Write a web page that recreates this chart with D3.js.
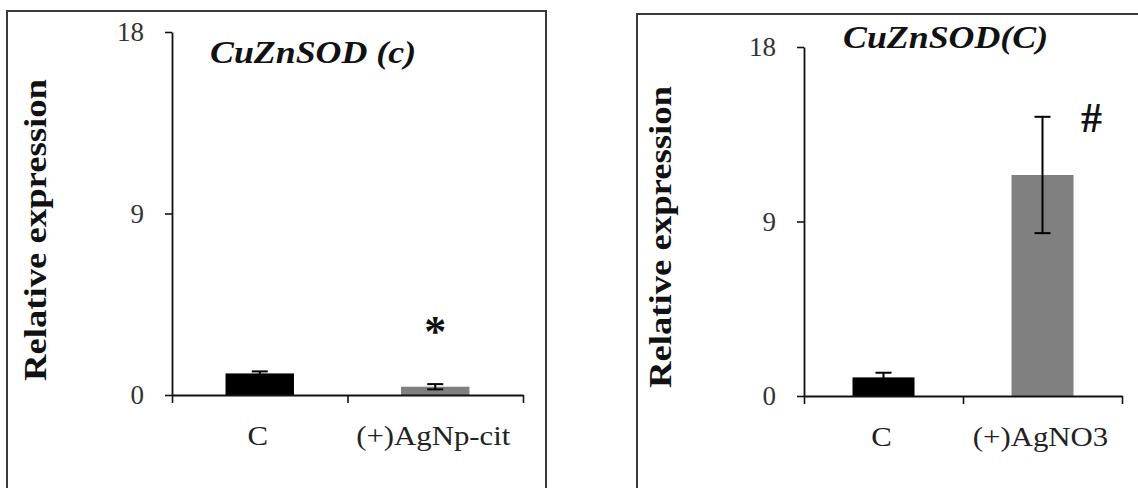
<!DOCTYPE html>
<html>
<head>
<meta charset="utf-8">
<script src="https://cdn.jsdelivr.net/npm/d3@7"></script>
<style>
  html, body { margin: 0; padding: 0; background: #fff; }
  svg { display: block; }
</style>
</head>
<body>
<svg id="chart" width="1138" height="488"></svg>
<script>
// ---- data ----
const titles = ["CuZnSOD (c)", "CuZnSOD(C)"];
const categoriesA = ["C", "(+)AgNp-cit"];
const meansA = [1.07, 0.41];
const errorsA = [0.10, 0.13];
const signifA = ["", "*"];
const categoriesB = ["C", "(+)AgNO3"];
const meansB = [0.96, 11.4];
const errorsB = [0.24, 3.0];
const signifB = ["", "#"];
const yTicks = [0, 9, 18];
const yLabel = "Relative expression";
const barColors = ["#000000", "#808080"];

// ---- layout ----
const panels = [
  {
    title: titles[0], cats: categoriesA, means: meansA, errs: errorsA, marks: signifA,
    frame: { x: 7, y: 11, w: 539, h: 520 },
    x0: 172, x1: 523, yTop: 32, yBottom: 395,
    titleX: 210, titleY: 63,
    labelX: 46, labelY: 230,
    markDx: 0, markDy: -38, markSize: 44
  },
  {
    title: titles[1], cats: categoriesB, means: meansB, errs: errorsB, marks: signifB,
    frame: { x: 637, y: 14, w: 540, h: 520 },
    x0: 804, x1: 1122, yTop: 47, yBottom: 396,
    titleX: 843, titleY: 48,
    labelX: 671, labelY: 237,
    markDx: 49, markDy: 15, markSize: 42
  }
];

const svg = d3.select("#chart");
const FONT = "Liberation Serif";

// text helper with horizontal stretch
function stretchedText(g, str, x, y, opts) {
  const t = g.append("text")
    .attr("transform", `translate(${x},${y}) rotate(${opts.rotate || 0}) scale(${opts.sx || 1},1)`)
    .attr("font-family", FONT)
    .attr("font-size", opts.size)
    .attr("font-weight", opts.weight || "normal")
    .attr("font-style", opts.style || "normal")
    .attr("text-anchor", opts.anchor || "middle")
    .attr("fill", opts.fill || "#111")
    .text(str);
  if (opts.length) t.attr("textLength", opts.length).attr("lengthAdjust", "spacingAndGlyphs");
  return t;
}

panels.forEach(p => {
  const g = svg.append("g");

  // frame
  g.append("rect")
    .attr("x", p.frame.x).attr("y", p.frame.y)
    .attr("width", p.frame.w).attr("height", p.frame.h)
    .attr("fill", "none").attr("stroke", "#3a3a3a").attr("stroke-width", 2);

  const y = d3.scaleLinear().domain([0, 18]).range([p.yBottom, p.yTop]);
  const x = d3.scaleBand().domain(p.cats).range([p.x0, p.x1]).paddingInner(0).paddingOuter(0);
  const xEdges = d3.scaleLinear().domain([0, p.cats.length]).range([p.x0, p.x1]);
  const barW = x.bandwidth() * 0.39;

  // bars
  g.selectAll("rect.bar").data(p.cats).join("rect")
    .attr("class", "bar")
    .attr("x", d => x(d) + x.bandwidth() / 2 - barW / 2)
    .attr("width", barW)
    .attr("y", (d, i) => y(p.means[i]))
    .attr("height", (d, i) => y(0) - y(p.means[i]))
    .attr("fill", (d, i) => barColors[i]);

  // error bars
  const capW = 16;
  const eb = g.selectAll("g.err").data(p.cats).join("g").attr("class", "err");
  eb.append("line")
    .attr("x1", d => x(d) + x.bandwidth() / 2)
    .attr("x2", d => x(d) + x.bandwidth() / 2)
    .attr("y1", (d, i) => y(p.means[i] - p.errs[i]))
    .attr("y2", (d, i) => y(p.means[i] + p.errs[i]))
    .attr("stroke", "#000").attr("stroke-width", 2);
  ["-", "+"].forEach(s => {
    eb.append("line")
      .attr("x1", d => x(d) + x.bandwidth() / 2 - capW / 2)
      .attr("x2", d => x(d) + x.bandwidth() / 2 + capW / 2)
      .attr("y1", (d, i) => y(p.means[i] + (s === "+" ? p.errs[i] : -p.errs[i])))
      .attr("y2", (d, i) => y(p.means[i] + (s === "+" ? p.errs[i] : -p.errs[i])))
      .attr("stroke", "#000").attr("stroke-width", 2);
  });

  // y axis
  const yAxis = d3.axisLeft(y).tickValues(yTicks).tickSize(7).tickSizeOuter(0).tickPadding(21);
  const ya = g.append("g").attr("transform", `translate(${p.x0},0)`).call(yAxis);
  ya.attr("font-family", FONT);
  ya.select(".domain").attr("stroke", "#111").attr("stroke-width", 1.8);
  ya.selectAll(".tick line").attr("stroke", "#111").attr("stroke-width", 1.6);
  ya.selectAll(".tick text")
    .attr("font-family", FONT).attr("font-size", 27).attr("fill", "#333");

  // x axis with tick marks at category boundaries
  const xAxis = d3.axisBottom(xEdges).tickValues(d3.range(p.cats.length + 1))
    .tickFormat("").tickSize(8).tickSizeOuter(0);
  const xa = g.append("g").attr("transform", `translate(0,${p.yBottom})`).call(xAxis);
  xa.select(".domain").attr("stroke", "#111").attr("stroke-width", 1.8);
  xa.selectAll(".tick line").attr("stroke", "#111").attr("stroke-width", 1.6);

  // category labels
  p.cats.forEach(c => {
    stretchedText(g, c, x(c) + x.bandwidth() / 2 - 2, p.yBottom + 50, { size: 28, sx: 1.1, fill: "#222" });
  });

  // significance marks
  p.cats.forEach((c, i) => {
    if (!p.marks[i]) return;
    const cx = x(c) + x.bandwidth() / 2 + p.markDx;
    const cy = y(p.means[i] + p.errs[i]) + p.markDy;
    stretchedText(g, p.marks[i], cx, cy, { size: p.markSize, weight: "bold", fill: "#111" });
  });

  // title
  stretchedText(g, p.title, p.titleX, p.titleY, {
    size: 32, weight: "bold", style: "italic", anchor: "start", sx: 1.12, fill: "#111"
  });

  // y-axis label
  stretchedText(g, yLabel, p.labelX, p.labelY, {
    size: 31, weight: "bold", rotate: -90, length: 302, fill: "#111"
  });
});
</script>
</body>
</html>
